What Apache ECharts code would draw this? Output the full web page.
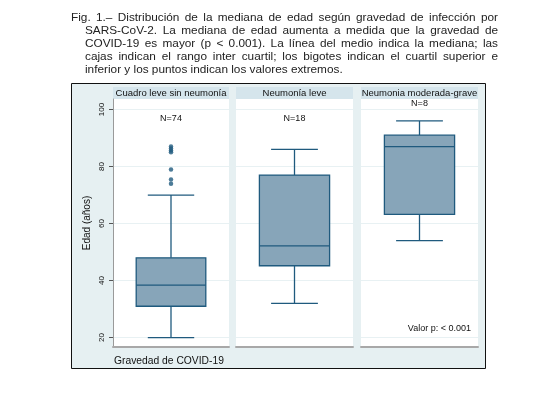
<!DOCTYPE html>
<html lang="es">
<head>
  <meta charset="utf-8" />
  <script src="https://cdn.jsdelivr.net/npm/echarts@6/dist/echarts.min.js"></script>
</head>
<body style="margin: 0; background: #fff">
  <div id="container" style="width: 560px; height: 398px"></div>
  <script type="text/javascript">
    // --- data ---
    var groups = ["Cuadro leve sin neumonía", "Neumonía leve", "Neumonia moderada-grave"];
    // [lower whisker, Q1, median, Q3, upper whisker]
    var boxLeve = [20, 31, 38.4, 48, 70];
    var boxNeumLeve = [32, 45.2, 52.2, 77, 86];
    var boxGrave = [54, 63.2, 87, 91, 96];
    var outliersLeve = [87, 86.3, 85.6, 85, 79, 75.5, 74];
    var nLabels = ["N=74", "N=18", "N=8"];
    var nLabelY = [97, 97, 102];
    var yTicks = [20, 40, 60, 80, 100];
    var captionLines = [
      "Fig. 1.– Distribución de la mediana de edad según gravedad de infección por",
      "SARS-CoV-2. La mediana de edad aumenta a medida que la gravedad de",
      "COVID-19 es mayor (p < 0.001). La línea del medio indica la mediana; las",
      "cajas indican el rango inter cuartil; los bigotes indican el cuartil superior e",
      "inferior y los puntos indican los valores extremos."
    ];

    var boxes = [boxLeve, boxNeumLeve, boxGrave];
    var outliers = [outliersLeve, [], []];

    var FONT = "Liberation Sans";
    var STROKE = "#1f5a7e";
    var FILL = "#87a5b9";
    var CAPTION_FONT = "11.8px " + FONT;

    var dom = document.getElementById("container");
    var myChart = echarts.init(dom, null, { renderer: "canvas" });

    var panels = [
      { left: 113, width: 116 },
      { left: 236, width: 117 },
      { left: 361, width: 117 }
    ];

    function renderBox(params, api) {
      var gi = params.seriesIndex / 2;
      var b = boxes[gi];
      var band = api.size([1, 0])[0];
      var x = api.coord([0, b[2]])[0];
      var bw = band * 0.6, cw = band * 0.4;
      var yLo = api.coord([0, b[0]])[1];
      var yQ1 = api.coord([0, b[1]])[1];
      var yMed = api.coord([0, b[2]])[1];
      var yQ3 = api.coord([0, b[3]])[1];
      var yHi = api.coord([0, b[4]])[1];
      var yN = api.coord([0, nLabelY[gi]])[1];
      var ls = { stroke: STROKE, lineWidth: 1.3 };
      return {
        type: "group",
        children: [
          { type: "line", shape: { x1: x, y1: yQ1, x2: x, y2: yLo }, style: ls },
          { type: "line", shape: { x1: x, y1: yQ3, x2: x, y2: yHi }, style: ls },
          { type: "line", shape: { x1: x - cw / 2, y1: yLo, x2: x + cw / 2, y2: yLo }, style: ls },
          { type: "line", shape: { x1: x - cw / 2, y1: yHi, x2: x + cw / 2, y2: yHi }, style: ls },
          { type: "rect", shape: { x: x - bw / 2, y: yQ3, width: bw, height: yQ1 - yQ3 },
            style: { fill: FILL, stroke: STROKE, lineWidth: 1.3 } },
          { type: "line", shape: { x1: x - bw / 2, y1: yMed, x2: x + bw / 2, y2: yMed }, style: ls },
          { type: "text", x: x, y: yN,
            style: { text: nLabels[gi], fill: "#111", font: "9px " + FONT, align: "center", verticalAlign: "middle" } }
        ]
      };
    }

    var grids = [], xAxes = [], yAxes = [], series = [], graphics = [];

    graphics.push({
      type: "rect", z: -10,
      shape: { x: 71.5, y: 83.5, width: 414, height: 285 },
      style: { fill: "#e6f0f2", stroke: "#111", lineWidth: 1 }
    });

    panels.forEach(function (p, i) {
      grids.push({
        left: p.left, width: p.width, top: 99, bottom: 51,
        show: true, backgroundColor: "#fff", borderWidth: 0
      });
      xAxes.push({
        type: "category", gridIndex: i, data: [groups[i]],
        axisLabel: { show: false }, axisTick: { show: false },
        axisLine: { lineStyle: { color: "#a8a8a8", width: 2 } }
      });
      yAxes.push({
        type: "value", gridIndex: i, min: 16.7, max: 103.7,
        name: i === 0 ? "Edad (años)" : "",
        nameLocation: "middle", nameRotate: 90, nameGap: 21,
        nameTextStyle: { fontFamily: FONT, fontSize: 10, color: "#111" },
        axisLine: { show: i === 0, lineStyle: { color: "#9a9a9a", width: 1 } },
        axisTick: { show: i === 0, length: 4, customValues: yTicks, lineStyle: { color: "#555" } },
        axisLabel: {
          show: i === 0, customValues: yTicks, rotate: 90, margin: 7,
          fontFamily: FONT, fontSize: 8, color: "#111"
        },
        splitLine: { show: true, lineStyle: { color: "#e8f1f3", width: 1 } }
      });
      series.push({
        type: "custom", xAxisIndex: i, yAxisIndex: i,
        data: [[0, boxes[i][2]]], renderItem: renderBox, z: 5
      });
      series.push({
        type: "scatter", xAxisIndex: i, yAxisIndex: i,
        data: outliers[i].map(function (v) { return [0, v]; }),
        symbol: "circle", symbolSize: 4.5,
        itemStyle: { color: STROKE }, z: 6
      });
      // strip header
      graphics.push({
        type: "rect",
        shape: { x: p.left, y: 87, width: p.width, height: 12 },
        style: { fill: "#d5e5ec" }
      });
      graphics.push({
        type: "text", x: p.left + p.width / 2, y: 93,
        style: { text: groups[i], fill: "#111", font: "9.5px " + FONT, align: "center", verticalAlign: "middle" }
      });
    });

    graphics.push({
      type: "text", x: 114, y: 361,
      style: { text: "Gravedad de COVID-19", fill: "#111", font: "10.3px " + FONT, align: "left", verticalAlign: "middle" }
    });
    graphics.push({
      type: "text", x: 471, y: 329,
      style: { text: "Valor p: < 0.001", fill: "#111", font: "9px " + FONT, align: "right", verticalAlign: "middle" }
    });

    // caption, justified like the printed figure (last line left aligned)
    var measureCtx = document.createElement("canvas").getContext("2d");
    measureCtx.font = CAPTION_FONT;
    var captionRight = 498;
    captionLines.forEach(function (t, k) {
      var x0 = k === 0 ? 71 : 85;
      var y = 18 + k * 13;
      var words = t.split(" ");
      var last = k === captionLines.length - 1;
      var widths = words.map(function (w) { return measureCtx.measureText(w).width; });
      var total = widths.reduce(function (a, b) { return a + b; }, 0);
      var gap = last ? measureCtx.measureText(" ").width
        : (captionRight - x0 - total) / (words.length - 1);
      var x = x0;
      words.forEach(function (w, j) {
        graphics.push({
          type: "text", x: x, y: y,
          style: { text: w, fill: "#222", font: CAPTION_FONT, align: "left", verticalAlign: "middle" }
        });
        x += widths[j] + gap;
      });
    });

    var option = {
      animation: false,
      backgroundColor: "#fff",
      grid: grids,
      xAxis: xAxes,
      yAxis: yAxes,
      series: series,
      graphic: graphics
    };

    myChart.setOption(option);
    window.addEventListener("resize", myChart.resize);
  </script>
</body>
</html>
